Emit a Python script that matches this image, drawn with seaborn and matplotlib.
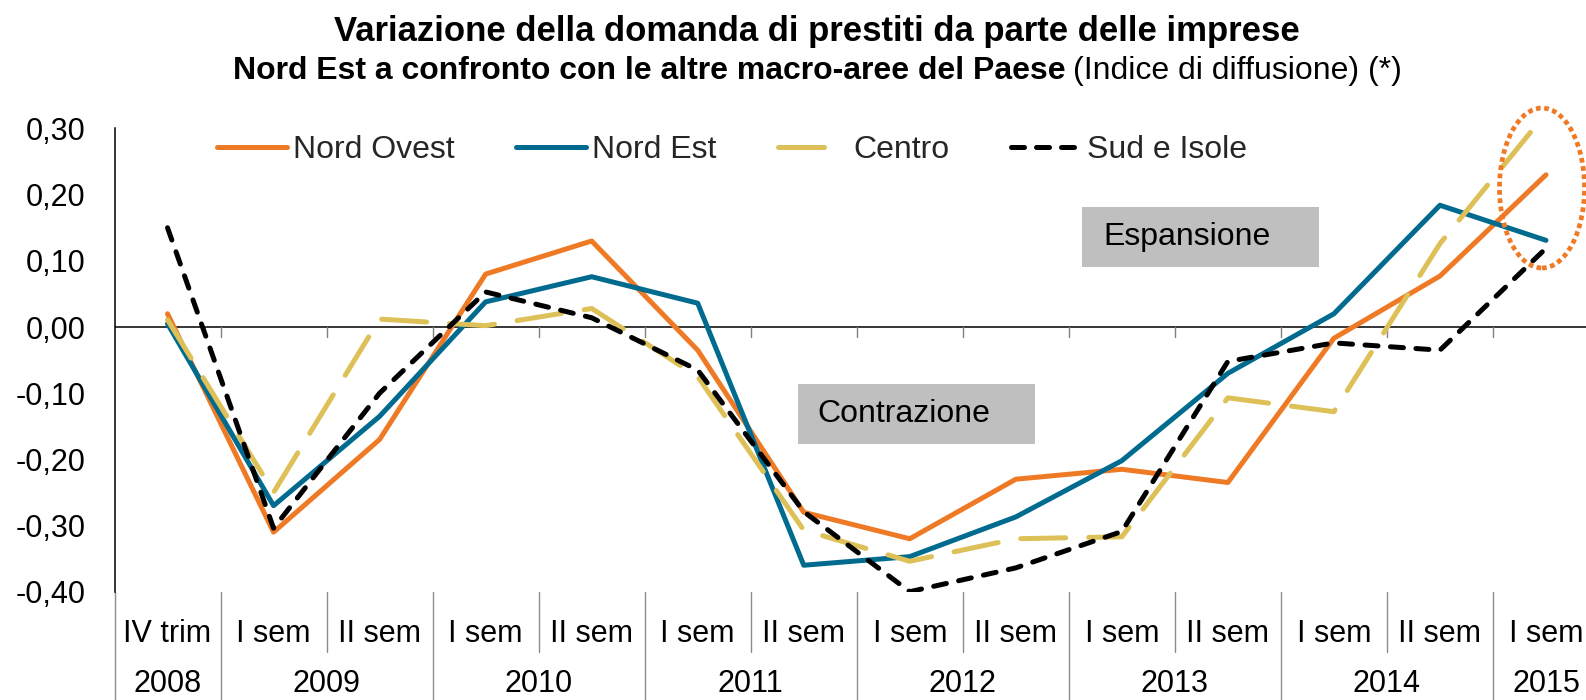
import numpy as np
import pandas as pd
import matplotlib
matplotlib.use("Agg")
import matplotlib.pyplot as plt
import seaborn as sns
from matplotlib.patches import Rectangle, Ellipse
from matplotlib.lines import Line2D
from matplotlib.ticker import FuncFormatter

# ---------------- data ----------------
periods = ["IV trim", "I sem", "II sem", "I sem", "II sem", "I sem", "II sem",
           "I sem", "II sem", "I sem", "II sem", "I sem", "II sem", "I sem"]
period_years = ["2008", "2009", "2009", "2010", "2010", "2011", "2011",
                "2012", "2012", "2013", "2013", "2014", "2014", "2015"]
nord_ovest = [0.020, -0.310, -0.170, 0.080, 0.130, -0.035, -0.280,
              -0.320, -0.230, -0.215, -0.235, -0.017, 0.077, 0.230]
nord_est = [0.005, -0.270, -0.135, 0.038, 0.076, 0.036, -0.360,
            -0.347, -0.287, -0.202, -0.070, 0.020, 0.184, 0.131]
centro = [0.011, -0.250, 0.012, 0.002, 0.028, -0.075, -0.307,
          -0.354, -0.320, -0.317, -0.107, -0.128, 0.126, 0.323]
sud_isole = [0.150, -0.304, -0.100, 0.053, 0.014, -0.065, -0.279,
             -0.400, -0.364, -0.309, -0.052, -0.024, -0.035, 0.119]
series_names = ["Nord Ovest", "Nord Est", "Centro", "Sud e Isole"]
yticks = [-0.40, -0.30, -0.20, -0.10, 0.00, 0.10, 0.20, 0.30]

title1 = "Variazione della domanda di prestiti da parte delle imprese"
title2_bold = "Nord Est a confronto con le altre macro-aree del Paese"
title2_reg = "(Indice di diffusione) (*)"

# ---------------- style ----------------
sns.set_theme(style="white")
plt.rcParams["font.family"] = ["Liberation Sans", "DejaVu Sans"]

W, H = 1586, 700
fig = plt.figure(figsize=(W / 100, H / 100), dpi=100)
fig.patch.set_facecolor("white")

def fx(px):
    return px / W

def fy(py):
    return 1 - py / H

ax_top, ax_bot = 128.5, 591.7
ax_left, ax_right = 114.5, 1599.0
ax = fig.add_axes([fx(ax_left), fy(ax_bot), (ax_right - ax_left) / W, (ax_bot - ax_top) / H])
ax.set_facecolor("none")

def ay(py):
    return (ax_bot - py) / (ax_bot - ax_top)

colors = {"Nord Ovest": "#EF7A26", "Nord Est": "#006B8F",
          "Centro": "#DDC057", "Sud e Isole": "#000000"}
dash_map = {"Nord Ovest": None, "Nord Est": None,
            "Centro": (9.0, 4.6), "Sud e Isole": (2.6, 2.5)}
legend_dash = {"Nord Ovest": None, "Nord Est": None,
               "Centro": (9.2, 12.0), "Sud e Isole": (2.6, 2.4)}
values = {"Nord Ovest": nord_ovest, "Nord Est": nord_est,
          "Centro": centro, "Sud e Isole": sud_isole}
LW = 3.6

x = np.arange(len(periods))
handles = []
for i, name in enumerate(series_names):
    df = pd.DataFrame({"x": x, "y": values[name]})
    sns.lineplot(data=df, x="x", y="y", ax=ax, color=colors[name], lw=LW,
                 legend=False, zorder=3 + i)
    ln = ax.lines[-1]
    ln.set_solid_capstyle("round")
    ln.set_dash_capstyle("round")
    ln.set_solid_joinstyle("round")
    ln.set_dash_joinstyle("round")
    if dash_map[name] is not None:
        ln.set_dashes(dash_map[name])
    h = Line2D([], [], color=colors[name], lw=LW,
               solid_capstyle="round", dash_capstyle="round")
    if legend_dash[name] is not None:
        h.set_dashes(legend_dash[name])
    handles.append(h)

ax.set_xlim(-0.5, len(periods) - 0.5)
ax.set_ylim(-0.40, 0.30)
ax.set_xlabel("")
ax.set_ylabel("")

# zero line
ax.axhline(0, color="black", lw=1.1, zorder=2)

# spines
for s in ["top", "right", "bottom"]:
    ax.spines[s].set_visible(False)
ax.spines["left"].set_color("black")
ax.spines["left"].set_linewidth(1.1)

# y ticks
ax.set_yticks(yticks)
ax.yaxis.set_major_formatter(FuncFormatter(lambda v, p: f"{v:.2f}".replace(".", ",").replace("-0,00", "0,00")))
ax.tick_params(axis="y", length=0, pad=21, labelsize=22, labelcolor="black")
ax.set_xticks([])
ax.grid(False)

# category boundaries
boundaries = np.arange(len(periods) - 1) + 0.5
tick_len = 10 / (ax_bot - ax_top) * 0.70
for k, b in enumerate(boundaries):
    ax.plot([b, b], [0, -tick_len], color="#808080", lw=1.0, zorder=2)
    year_break = period_years[k] != period_years[k + 1]
    y_end = ay(700) if year_break else ay(652)
    ax.plot([b, b], [0, y_end], transform=ax.get_xaxis_transform(),
            color="#8C8C8C", lw=1.0, clip_on=False)
ax.plot([-0.5, -0.5], [0, ay(700)], transform=ax.get_xaxis_transform(),
        color="#8C8C8C", lw=1.0, clip_on=False)

# category labels
for i, lab in enumerate(periods):
    ax.text(i, ay(634), lab, transform=ax.get_xaxis_transform(),
            ha="center", va="center", fontsize=22, color="black")
uniq_years = list(dict.fromkeys(period_years))
for yr in uniq_years:
    idx = [i for i, p in enumerate(period_years) if p == yr]
    ax.text(np.mean(idx), ay(699.5), yr, transform=ax.get_xaxis_transform(),
            ha="center", va="bottom", fontsize=22, color="black")

# annotation boxes
for (x0, y0, x1, y1, txt, tx) in [(1082, 207, 1319, 267, "Espansione", 1103),
                                  (798, 384, 1035, 444, "Contrazione", 817)]:
    ax.add_patch(Rectangle((fx(x0), fy(y1)), (x1 - x0) / W, (y1 - y0) / H,
                           transform=fig.transFigure, facecolor="#BFBFBF",
                           edgecolor="none", zorder=1))
    ax.text(fx(tx), fy((y0 + y1) / 2), txt, transform=fig.transFigure,
            ha="left", va="center", fontsize=23, color="black", zorder=2)

# dotted highlight ellipse
ax.add_patch(Ellipse((fx(1542), fy(188)), 85 / W, 160 / H, transform=fig.transFigure,
                     facecolor="none", edgecolor="#EF7A26", lw=3.4,
                     linestyle=(0, (1, 0.75)), clip_on=False, zorder=10))

# legend
ax.legend(handles, series_names, loc="center left",
          bbox_to_anchor=(fx(217), fy(150)), bbox_transform=fig.transFigure,
          ncol=4, frameon=False, fontsize=23, handlelength=2.2,
          handletextpad=0.17, columnspacing=1.93, borderpad=0, borderaxespad=0)

# titles
fig.text(fx(817), fy(41), title1, ha="center", va="baseline",
         fontsize=25, fontweight="bold", color="black")
t2 = fig.text(fx(233), fy(79), title2_bold, ha="left", va="baseline",
              fontsize=23, fontweight="bold", color="black")
fig.canvas.draw()
bb = t2.get_window_extent()
fig.text((bb.x1 + 7) / W, fy(79), title2_reg, ha="left", va="baseline",
         fontsize=23, color="black")

fig.savefig("out.png", dpi=100, facecolor="white")
